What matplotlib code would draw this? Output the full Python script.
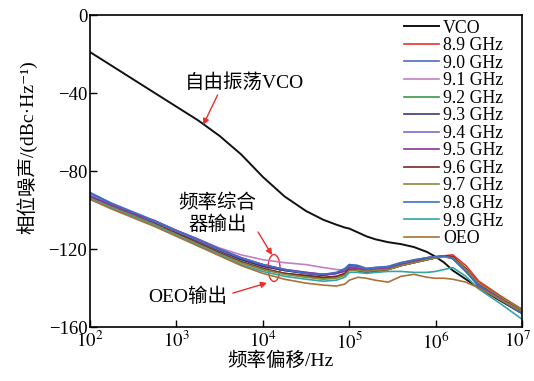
import matplotlib
matplotlib.use("Agg")
import matplotlib.pyplot as plt
import matplotlib.transforms as mtransforms
from matplotlib.patches import Ellipse
import numpy as np

plt.rcParams['font.family'] = ['Liberation Serif', 'Noto Sans CJK SC', 'DejaVu Serif']
plt.rcParams['mathtext.fontset'] = 'stix'
plt.rcParams['axes.unicode_minus'] = True

# offset frequency (Hz)
freq = [100, 178, 316, 562, 1.0e3, 1.78e3, 3.16e3, 5.62e3, 1.0e4, 1.78e4, 3.16e4,
        5.01e4, 7.08e4, 8.91e4, 1.0e5, 1.26e5, 1.58e5, 2.0e5, 2.82e5, 3.98e5,
        5.62e5, 7.94e5, 1.0e6, 1.26e6, 1.58e6, 2.24e6, 3.16e6, 5.62e6, 1.0e7]

# phase noise (dBc/Hz)
vco = [-19, -26, -33, -40, -47, -54, -62, -71.5, -83, -93, -100.5, -105, -107.5, -109,
       -109.5, -111.5, -113.5, -115, -116.5, -117.5, -119, -121.5, -124, -127, -131,
       -135.5, -140, -146.5, -153]
f89 = [-94, -98.5, -103, -107, -112, -117, -122, -127, -130.5, -132.5, -134, -135, -134.5,
       -133, -130.5, -131, -131.5, -131, -130.5, -128.5, -127, -125.5, -124.5, -123.5, -123,
       -128.5, -136.5, -144, -151]
f90 = [-91.5, -97, -101.5, -106, -111, -115.5, -120.5, -125, -128.5, -131, -132.5, -133.5,
       -132.5, -130.5, -128, -128.5, -130, -129.5, -129, -127, -126, -124.5, -124, -123.5,
       -125, -131.5, -138.5, -145.5, -152.5]
f91 = [-93, -97.5, -102, -106, -110.5, -115, -119.5, -123, -125.5, -127, -128, -129.5,
       -130.5, -131, -130, -130, -131, -130.5, -130, -128, -126.5, -125, -124.5, -124, -125,
       -131, -138, -145, -152]
f92 = [-94.5, -99, -103.5, -107.5, -112.5, -117, -122, -126.5, -130, -132.5, -134, -135,
       -134.5, -133, -130.5, -131, -131.5, -131, -130.5, -128.5, -127, -125.5, -124.5,
       -123.5, -124, -130.5, -138, -145.5, -152.5]
f93 = [-93, -98, -102.5, -106.5, -111.5, -116, -121, -125.5, -129, -131, -132.5, -133.5,
       -132.5, -131, -128.5, -129, -130.5, -130, -129.5, -127.5, -126, -124.5, -124, -123.5,
       -124.5, -131.5, -139, -146, -153]
f94 = [-92.5, -97.5, -102, -106, -111, -115.5, -120.5, -124.5, -128, -130.5, -132, -133,
       -132.5, -131, -129, -129.5, -130.5, -130, -129.5, -127.5, -126, -124.5, -124, -123.5,
       -124.5, -131, -138.5, -145.5, -152]
f95 = [-93, -97.5, -102, -105.5, -110.5, -115, -120, -124.5, -128, -130.5, -132, -133,
       -132.5, -131.5, -129.5, -130, -131, -130.5, -130, -128, -126.5, -125, -124.5, -123.5,
       -124, -130.5, -138, -145, -151.5]
f96 = [-94, -99, -103.5, -107.5, -112, -117, -122, -126.5, -130, -132.5, -133.5, -134.5,
       -134, -132.5, -130.5, -131, -132, -131.5, -130.5, -128.5, -127, -125.5, -124.5,
       -123.5, -124, -130, -137.5, -144.5, -151]
f97 = [-94, -98.5, -103, -107.5, -112.5, -117.5, -122.5, -127, -130.5, -133, -134.5, -135.5,
       -135, -133.5, -131, -131, -131.5, -131, -130.5, -128.5, -127, -125.5, -124.5, -124,
       -124.5, -130.5, -137.5, -144.5, -151]
f98 = [-91, -96.5, -101, -105.5, -110.5, -115, -120, -124.5, -128, -130.5, -132.5, -133,
       -132, -130, -128, -128.5, -130, -129.5, -129, -127, -125.5, -124.5, -124, -123.5,
       -125, -131.5, -139, -146, -153]
f99 = [-94, -99, -103.5, -108, -113, -118, -123, -128, -131.5, -134, -135.5, -136.5, -136,
       -134.5, -132, -132, -132.5, -132, -131.5, -131.5, -132, -132, -131.5, -130.5, -129.5,
       -134, -140.5, -148, -156]
oeo = [-94.5, -99.5, -104, -108.5, -113.5, -118.5, -123.5, -128.5, -132.5, -135.5, -137.5,
       -138.5, -139, -138, -136, -134.5, -135, -136, -137, -134, -133, -134.5, -135, -135,
       -135.5, -137, -140, -146, -152]

labels = ['VCO', '8.9 GHz', '9.0 GHz', '9.1 GHz', '9.2 GHz', '9.3 GHz', '9.4 GHz',
          '9.5 GHz', '9.6 GHz', '9.7 GHz', '9.8 GHz', '9.9 GHz', 'OEO']
series = [vco, f89, f90, f91, f92, f93, f94, f95, f96, f97, f98, f99, oeo]
colors = ['#111111', '#e8312f', '#4a6cc0', '#c27ec8', '#3d9648', '#3a3a78', '#7a6ccc',
          '#8a3595', '#7a2626', '#8c8838', '#3f6fc2', '#36a4a4', '#a87238']

xticks = [1e2, 1e3, 1e4, 1e5, 1e6, 1e7]
xticklabels = ['$10^2$', '$10^3$', '$10^4$', '$10^5$', '$10^6$', '$10^7$']

fig = plt.figure(figsize=(5.34, 3.81), dpi=100)
ax = fig.add_axes([90 / 534, 54 / 381, 432 / 534, 312 / 381])

for y, lab, c in zip(series, labels, colors):
    lw = 1.4 if lab == 'VCO' else 1.2
    ax.plot(freq, y, color=c, lw=lw, label=lab)

ax.set_xscale('log')
ax.set_xlim(1e2, 1e7)
ax.set_ylim(-160, 0)
ax.set_xticks(xticks, xticklabels)
ax.set_yticks([0, -40, -80, -120, -160])
ax.minorticks_off()
ax.tick_params(direction='in', length=5, width=1, labelsize=13.5)
ax.tick_params(axis='x', pad=3)
ax.tick_params(axis='y', pad=2)
for s in ax.spines.values():
    s.set_linewidth(1.2)

# nudge the last decade label so it stays inside the figure
last = ax.xaxis.get_major_ticks()[-1].label1
last.set_transform(last.get_transform() +
                   mtransforms.ScaledTranslation(-5 / 100, 0, fig.dpi_scale_trans))

ax.set_xlabel('频率偏移/Hz', fontsize=14)
ax.xaxis.set_label_coords(190 / 432, -0.078)
ax.set_ylabel('相位噪声/(dBc·Hz⁻¹)', fontsize=14)
ax.yaxis.set_label_coords(-0.122, 0.575)

leg = ax.legend(loc='upper right', bbox_to_anchor=(0.985, 1.025), frameon=False,
                fontsize=12.8, labelspacing=0.03, handlelength=2.0, handletextpad=0.2,
                borderpad=0.2)

red = '#e8312f'
arrow = dict(arrowstyle='-|>', color=red, lw=1.0, mutation_scale=9, shrinkA=0, shrinkB=0)

ax.text(6.2e3, -34.4, '自由振荡VCO', fontsize=14, ha='center', va='center')
ax.annotate('', xy=(2.04e3, -56.4), xytext=(3.0e3, -41), arrowprops=arrow)

ax.text(3.0e3, -102, '频率综合\n器输出', fontsize=14, ha='center', va='center',
        linespacing=1.25)
ax.annotate('', xy=(1.28e4, -123.1), xytext=(8.8e3, -111.3), arrowprops=arrow)
ax.add_patch(Ellipse((184 / 432, 59 / 312), 12 / 432, 27 / 312, transform=ax.transAxes,
                     fill=False, edgecolor=red, lw=1.0))

ax.text(1.36e3, -144.6, 'OEO输出', fontsize=14, ha='center', va='center')
ax.annotate('', xy=(1.12e4, -137.4), xytext=(4.5e3, -142.6), arrowprops=arrow)

fig.savefig('out.png', dpi=100)
